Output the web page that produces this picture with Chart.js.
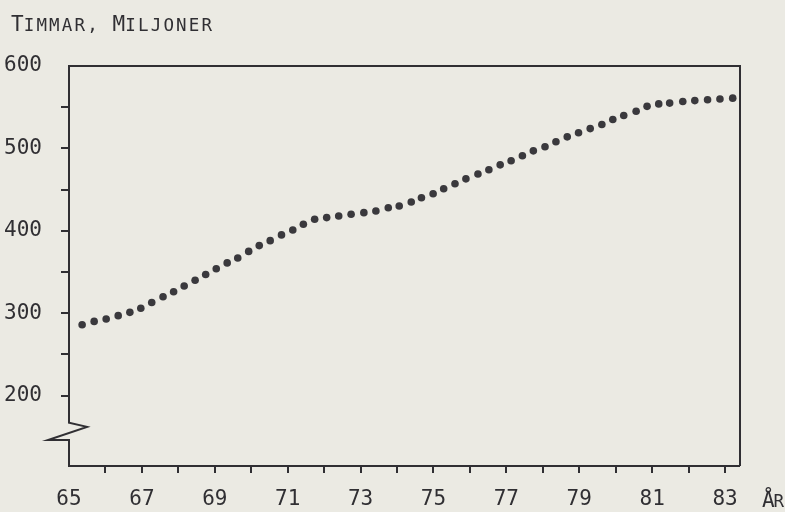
<!DOCTYPE html>
<html>
<head>
<meta charset="utf-8">
<script src="https://cdn.jsdelivr.net/npm/chart.js@4"></script>
<style>
html, body { margin: 0; padding: 0; background: #ebeae3; }
#wrap { width: 785px; height: 512px; position: relative; }
</style>
</head>
<body>
<div id="wrap"><canvas id="myChart"></canvas></div>
<script>
// år (x) och timmar i miljoner (y), avlästa punkt för punkt
var years = [65.36, 65.69, 66.02, 66.35, 66.67, 66.97, 67.27, 67.58, 67.87, 68.16,
    68.46, 68.75, 69.04, 69.34, 69.63, 69.93, 70.22, 70.52, 70.83, 71.14,
    71.43, 71.74, 72.07, 72.40, 72.74, 73.09, 73.42, 73.76, 74.06, 74.39,
    74.67, 74.99, 75.28, 75.59, 75.89, 76.22, 76.52, 76.83, 77.13, 77.44,
    77.74, 78.06, 78.36, 78.67, 78.98, 79.30, 79.62, 79.92, 80.22, 80.56,
    80.86, 81.18, 81.48, 81.84, 82.17, 82.52, 82.86, 83.21];
var hours = [286, 290, 293, 297, 301, 306, 313, 320, 326, 333,
    340, 347, 354, 361, 367, 375, 382, 388, 395, 401,
    408, 414, 416, 418, 420, 422, 424, 428, 430, 435,
    440, 445, 451, 457, 463, 469, 474, 480, 485, 491,
    497, 502, 508, 514, 519, 524, 529, 535, 540, 545,
    551, 554, 555, 557, 558, 559, 560, 561];
var xTicks = [65, 66, 67, 68, 69, 70, 71, 72, 73, 74, 75, 76, 77, 78, 79, 80, 81, 82, 83];
var yTicks = [200, 250, 300, 350, 400, 450, 500, 550, 600];
var yTitle = 'TIMMAR, MILJONER';
var xTitle = 'ÅR';

var ink = '#302f33';
var monoFont = '"DejaVu Sans Mono", "Liberation Mono", monospace';

// small caps: first letter of each word big, the rest smaller
function drawCaps(ctx, text, x, y, step, big, small) {
    var first = true;
    for (var i = 0; i < text.length; i++) {
        var ch = text[i];
        ctx.font = (first ? big : small) + 'px ' + monoFont;
        ctx.fillText(ch, x + i * step, y);
        first = (ch === ' ');
    }
}

var frame = {
    id: 'frame',
    afterDraw: function(chart) {
        var a = chart.chartArea, c = chart.ctx, ys = chart.scales.y;
        var b1 = ys.getPixelForValue(167);
        var b2 = ys.getPixelForValue(162);
        var b3 = ys.getPixelForValue(146);
        c.save();
        c.strokeStyle = ink;
        c.lineWidth = 2;
        c.lineJoin = 'miter';
        c.beginPath();
        c.moveTo(a.right, a.bottom);
        c.lineTo(a.right, a.top);
        c.lineTo(a.left, a.top);
        c.lineTo(a.left, b1);
        c.lineTo(a.left + 18, b2);
        c.lineTo(a.left - 21, b3);
        c.lineTo(a.left, b3);
        c.lineTo(a.left, a.bottom);
        c.lineTo(a.right, a.bottom);
        c.stroke();

        c.fillStyle = ink;
        c.textAlign = 'left';
        c.textBaseline = 'alphabetic';
        drawCaps(c, yTitle, 11, 31, 12.7, 21, 17.5);
        drawCaps(c, xTitle, 762, 507, 11.5, 21, 17.5);
        c.restore();
    }
};

var ctx = document.getElementById('myChart').getContext('2d');
var mychart = new Chart(ctx, {
    type: 'scatter',
    data: {
        datasets: [{
            data: years.map(function(y, i) { return {x: y, y: hours[i]}; }),
            backgroundColor: '#3a393d',
            borderColor: '#3a393d',
            pointRadius: 3.8,
            pointBorderWidth: 0,
            showLine: false
        }]
    },
    options: {
        responsive: true,
        maintainAspectRatio: false,
        animation: false,
        layout: { padding: { top: 66, right: 45, left: 0, bottom: 0 } },
        plugins: {
            legend: { display: false },
            tooltip: { enabled: false }
        },
        scales: {
            x: {
                type: 'linear',
                min: 65,
                max: 83.41,
                afterBuildTicks: function(scale) {
                    scale.ticks = xTicks.map(function(v) { return {value: v}; });
                },
                afterFit: function(scale) { scale.height = 46; },
                border: { display: false },
                grid: {
                    drawOnChartArea: false,
                    tickLength: 7,
                    lineWidth: 2,
                    tickColor: function(c) {
                        return c.tick && c.tick.value === 65 ? 'rgba(0,0,0,0)' : ink;
                    }
                },
                ticks: {
                    autoSkip: false,
                    maxRotation: 0,
                    padding: 14,
                    color: ink,
                    font: { family: monoFont, size: 21 },
                    callback: function(v) { return v % 2 === 1 ? String(v) : ''; }
                }
            },
            y: {
                type: 'linear',
                min: 114.5,
                max: 600,
                afterBuildTicks: function(scale) {
                    scale.ticks = yTicks.map(function(v) { return {value: v}; });
                },
                afterFit: function(scale) { scale.width = 69; },
                border: { display: false },
                grid: {
                    drawOnChartArea: false,
                    tickLength: 8,
                    lineWidth: 2,
                    tickColor: function(c) {
                        return c.tick && c.tick.value === 600 ? 'rgba(0,0,0,0)' : ink;
                    }
                },
                ticks: {
                    autoSkip: false,
                    padding: 19,
                    color: ink,
                    font: { family: monoFont, size: 21 },
                    callback: function(v) { return v % 100 === 0 ? String(v) : ''; }
                }
            }
        }
    },
    plugins: [frame]
});
</script>
</body>
</html>
